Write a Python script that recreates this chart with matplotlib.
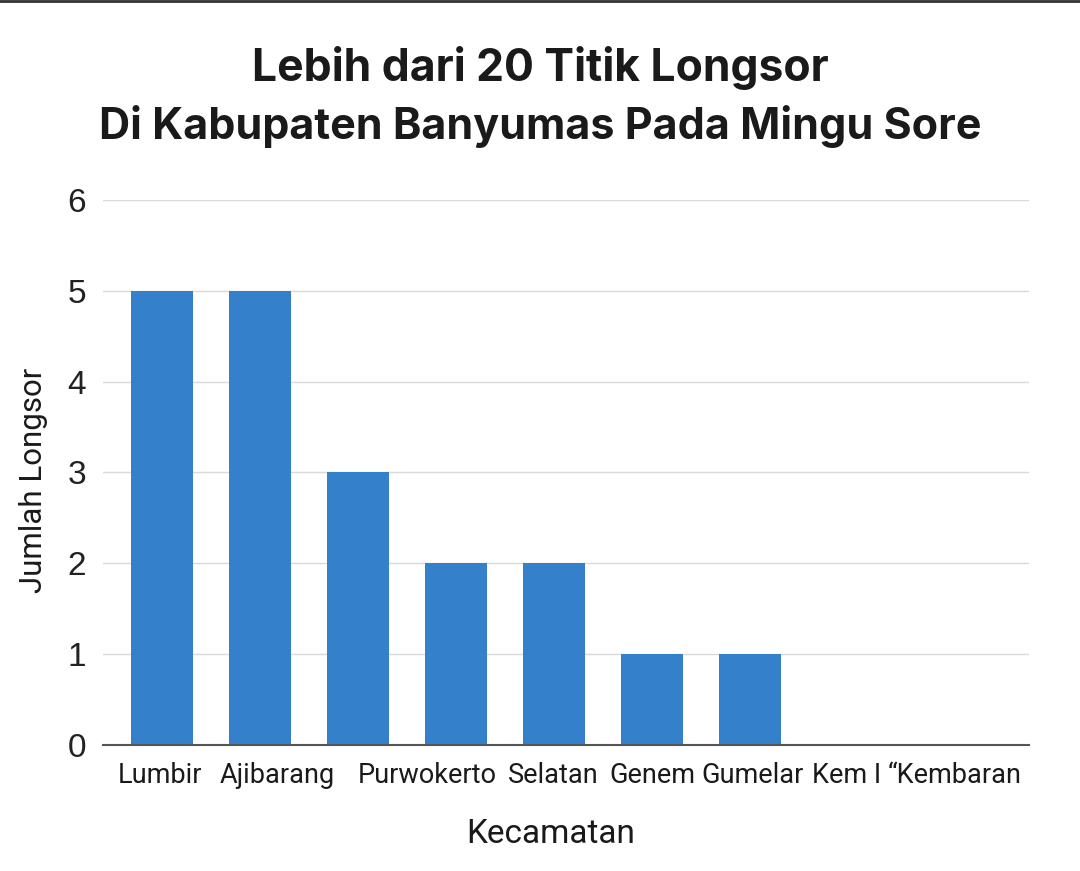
import numpy as np
import matplotlib.pyplot as plt
from matplotlib.lines import Line2D

# data
kategori = ["Lumbir", "Ajibarang", "Purwokerto", "Selatan", "Genem", "Gumelar", "Kem I", "Kembaran", ""]
jumlah = [5, 5, 3, 2, 2, 1, 1, 0, 0]
# posisi label (tidak sejajar dengan batang pada gambar asli)
label_teks = ["Lumbir", "Ajibarang", "Purwokerto", "Selatan", "Genem", "Gumelar", "Kem I", "\u201cKembaran"]
label_pos = [-0.02, 1.18, 2.71, 3.99, 5.0, 6.02, 6.98, 8.09]
y_ticks = [0, 1, 2, 3, 4, 5, 6]

warna = '#3580CB'

fig = plt.figure(figsize=(10.8, 8.71), dpi=100)
ax = fig.add_axes([0.0954, 0.1447, 0.857, 0.6257])

x = np.arange(len(kategori))
ax.bar(x, jumlah, width=0.63, color=warna, zorder=3)

ax.set_xlim(-0.60, 8.84)
ax.set_ylim(0, 6)
ax.set_yticks(y_ticks)
ax.set_yticklabels([str(v) for v in y_ticks], fontsize=24, family='Liberation Sans', color='#222222')
ax.set_xticks(label_pos)
ax.set_xticklabels(label_teks, fontsize=19.5, family='Roboto', color='#1a1a1a')
ax.tick_params(axis='both', length=0)
ax.tick_params(axis='y', pad=12)
ax.tick_params(axis='x', pad=12)

ax.grid(axis='y', color='#d9d9d9', linewidth=1.0, zorder=0)
for s in ['top', 'right', 'left']:
    ax.spines[s].set_visible(False)
ax.spines['bottom'].set_color('#555555')
ax.spines['bottom'].set_linewidth(1.5)
ax.spines['bottom'].set_zorder(4)

ax.set_ylabel('Jumlah Longsor', fontsize=22.5, family='Roboto', color='#1a1a1a', labelpad=14)
ax.yaxis.label.set_y(0.485)
ax.set_xlabel('Kecamatan', fontsize=24, family='Roboto', color='#1a1a1a', labelpad=21)
ax.xaxis.label.set_x(0.484)

fig.text(0.5, 0.922, 'Lebih dari 20 Titik Longsor', ha='center', va='center',
         fontsize=32, fontweight='bold', family='Inter', color='#1a1a1a')
fig.text(0.5, 0.855, 'Di Kabupaten Banyumas Pada Mingu Sore', ha='center', va='center',
         fontsize=31, fontweight='bold', family='Inter', color='#1a1a1a')

# garis gelap di tepi atas
fig.add_artist(Line2D([0, 1], [0.999, 0.999], color='#333333', linewidth=2, transform=fig.transFigure))

fig.savefig('out.png', dpi=100)
